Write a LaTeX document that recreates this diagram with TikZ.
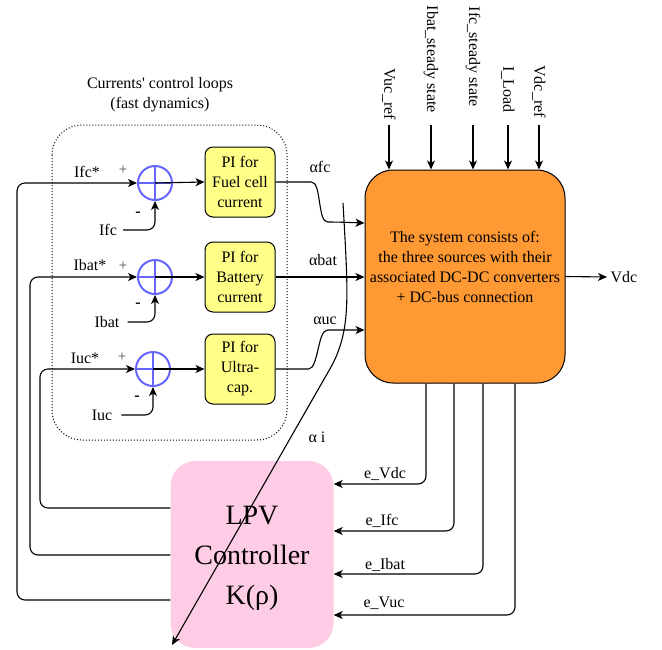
\documentclass[tikz,border=0pt]{standalone}
\usepackage{fontspec}
\setmainfont{Liberation Serif}
\usetikzlibrary{arrows.meta,positioning,calc}
\definecolor{system}{HTML}{FF9933}
\definecolor{lpv}{HTML}{FFCCE6}
\definecolor{piyellow}{HTML}{FFFF88}
\definecolor{sumblue}{HTML}{6666FF}

\begin{document}
\begin{tikzpicture}[x=1pt,y=-1pt,
  font=\fontsize{16}{20}\selectfont,
  sig/.style={line width=1.1pt,-{Stealth[length=9pt,width=8pt,inset=2.5pt]},rounded corners=8pt},
  piblock/.style={draw,line width=1pt,fill=piyellow,rounded corners=8pt,minimum width=70pt,minimum height=70pt,align=center,inner sep=1pt},
  sumnode/.style={draw=sumblue,line width=2pt,circle,minimum size=34pt,inner sep=0pt},
  plus/.style={font=\fontsize{15}{15}\selectfont,text=black!70}]
  \useasboundingbox (0,0) rectangle (662,649);

  % fast current loops
  \draw[dotted,line width=1pt,rounded corners=30pt] (52,125) rectangle (287,440);
  \node[align=center] (looptitle) at (160,95) {Currents\textquotesingle{} control loops\\(fast dynamics)};

  \node[sumnode] (sfc) at (155,183) {};
  \node[sumnode] (sbat) at (155,277) {};
  \node[sumnode] (suc) at (153,369) {};
  \foreach \s in {sfc,sbat,suc} {
    \draw[sumblue,line width=2pt] (\s.north) -- (\s.south) (\s.west) -- (\s.east);
  }

  \node[piblock] (pifc) at (240,182) {PI for\\Fuel cell\\current};
  \node[piblock] (pibat) at (240,277) {PI for\\Battery\\current};
  \node[piblock] (piuc) at (240,369) {PI for\\Ultra-\\cap.};

  \draw[sig] (sfc.center) -- (pifc.west);
  \draw[sig] (sbat.center) -- (pibat.west);
  \draw[sig] (suc.center) -- (piuc.west);

  % references and measures
  \node (ifcstar) at (87,172) {Ifc*};
  \node (ibatstar) at (90,265) {Ibat*};
  \node (iucstar) at (85,358) {Iuc*};
  \node[plus] (pfc) at (123,170) {+};
  \node[plus] (pbat) at (123,266) {+};
  \node[plus] (puc) at (122,357) {+};
  \node (mfc) at (138,214) {\textbf{-}};
  \node (mbat) at (138,305) {\textbf{-}};
  \node (muc) at (137,398) {\textbf{-}};

  \node[inner sep=6pt] (ifc) at (108,230) {Ifc};
  \node[inner sep=8pt] (ibat) at (107,322) {Ibat};
  \node[inner sep=9pt] (iuc) at (102,415) {Iuc};
  \draw[sig] (ifc.east) -| (sfc.south);
  \draw[sig] (ibat.east) -| (sbat.south);
  \draw[sig] (iuc.east) -| (suc.south);

  % system
  \node[draw,line width=1pt,fill=system,rounded corners=28pt,minimum width=200pt,minimum height=213pt] (sys) at (465,276.5) {};
  \node[align=center] (systext) at ($(sys.center)+(0,-10)$)
    {The system consists of:\\the three sources with their\\associated DC-DC converters\\+ DC-bus connection};

  \foreach \x/\nm/\txt/\e in {389/vucref/Vuc\_ref/120, 431/ibatss/Ibat\_steady state/113, 473/ifcss/Ifc\_steady state/107, 508/iload/I\_Load/113, 539/vdcref/Vdc\_ref/118} {
    \node[rotate=-90,anchor=east,inner sep=0pt] (\nm) at (\x,\e) {\txt};
    \draw[sig] (\nm.east |- 0,125) -- (\nm.east |- sys.north);
  }

  \node[anchor=west] (vdc) at (607,277) {Vdc};
  \draw[sig] (sys.east) -- (vdc.west);

  % duty cycles
  \node (afc) at (320,167) {αfc};
  \node (abat) at (323,260) {αbat};
  \node (auc) at (325,321) {αuc};
  \draw[sig] (pifc.east) -- ++(28,0) .. controls +(18,0) and +(-18,0) .. ++(32,40) -- (sys.west |- 0,223);
  \draw[sig] (pibat.east) -- (sys.west |- pibat);
  \draw[sig] (piuc.east) -- ++(25,0) .. controls +(18,0) and +(-18,0) .. ++(35,-39) -- (sys.west |- 0,330);

  % LPV controller
  \node[fill=lpv,rounded corners=25pt,minimum width=163pt,minimum height=187pt] (lpvk) at (252,554.5) {};
  \node[align=center,font=\fontsize{28}{40}\selectfont] (lpvtext) at ($(lpvk.center)+(0,4)$) {LPV\\Controller\\K(ρ)};

  \coordinate (aitop) at (343,203);
  \coordinate (aiend) at (172,645);
  \draw[sig] (aitop) .. controls (348,290) and (350,320) .. (335,360) -- (aiend);
  \node (ai) at (317,437) {α i};

  \draw[sig] (lpvk.west |- 0,600) -| (sfc.west -| 17,0) -- (sfc.west);
  \draw[sig] (lpvk.west |- 0,555) -| (sbat.west -| 30,0) -- (sbat.west);
  \draw[sig] (lpvk.west |- 0,508) -| (suc.west -| 40,0) -- (suc.west);

  % errors back to the controller
  \node (evdc) at (385,474) {e\_Vdc};
  \node (eifc) at (382,521) {e\_Ifc};
  \node (eibat) at (385,565) {e\_Ibat};
  \node (evuc) at (384,603) {e\_Vuc};
  \draw[sig] (sys.south -| 426,0) |- (lpvk.east |- 0,484);
  \draw[sig] (sys.south -| 454,0) |- (lpvk.east |- 0,531);
  \draw[sig] (sys.south -| 483,0) |- (lpvk.east |- 0,574);
  \draw[sig] (sys.south -| 515,0) |- (lpvk.east |- 0,615);
\end{tikzpicture}
\end{document}
